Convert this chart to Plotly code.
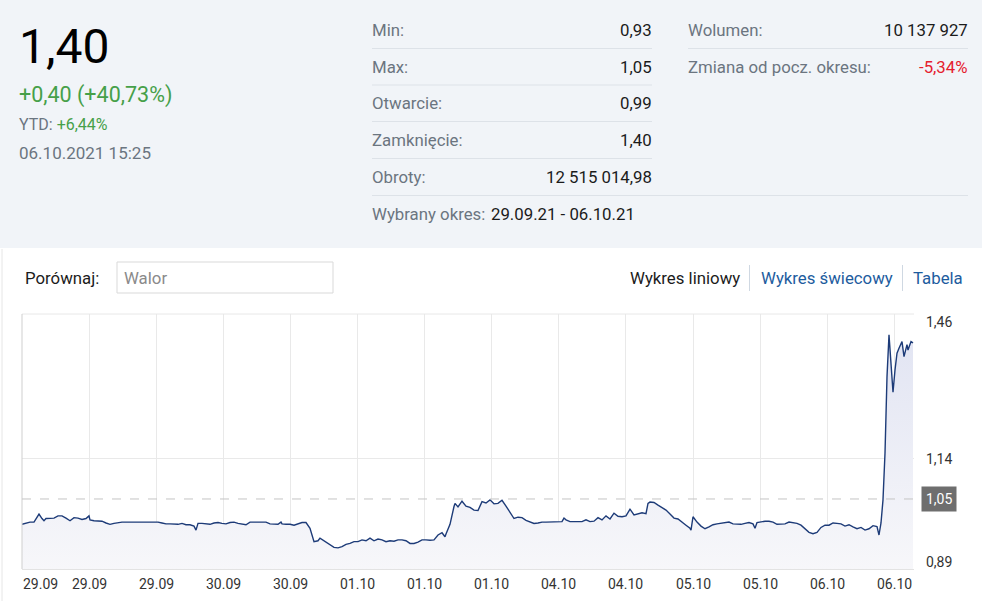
import plotly.graph_objects as go

# ---------------- data ----------------
# trading-time position (minutes from start of the selected period) and price
minutes = [
    0, 4, 8, 12, 16, 17, 20, 22, 24, 28, 32, 36, 40, 44, 48, 52, 56, 60, 64, 67,
    68, 72, 76, 80, 84, 88, 92, 96, 100, 104, 108, 112, 116, 120, 124, 128, 132, 136, 140, 144,
    148, 152, 156, 160, 164, 168, 172, 174, 176,
    180, 184, 188, 192, 196, 200, 204, 208, 212, 216, 220, 224, 228, 232, 236, 240, 244, 248, 252, 256,
    259, 260, 264, 268, 272, 276, 280, 284, 288, 292, 296, 298, 300, 304, 308, 312, 316, 320, 324, 328,
    332, 336, 340,
    344, 348, 352, 356, 360, 364, 368, 372, 376, 380, 384, 388, 392, 396, 400, 404, 408, 412, 416, 420,
    423, 424, 428, 432, 433, 436, 440, 444, 448, 452, 456, 460, 464, 468, 472, 476, 480, 484, 488, 492,
    496, 500, 504, 508, 512,
    516, 520, 524, 528, 532, 536, 540, 542, 544, 548, 552, 556, 560, 564, 568, 572, 576, 580, 584, 588,
    592, 596, 600, 604, 608, 612, 616, 620, 624, 626, 628, 632, 636, 640, 644, 648, 652, 656, 660, 664,
    668, 669, 671, 675, 679,
    683, 687, 691, 695, 699, 703, 707, 711, 715, 719, 723, 727, 731, 733, 735, 739, 743, 747, 751, 755,
    759, 763, 767, 771, 775, 779, 783, 787, 791, 795, 799, 803, 807, 811, 815, 819, 823, 827, 831, 835,
    839, 843, 847, 851,
    855, 857, 859, 861, 863, 865, 867, 869, 871, 873, 875, 877, 880, 882, 885, 886, 889, 891,
]
price = [
    0.993, 0.996, 0.998, 0.998, 1.012, 1.016, 1.006, 1.001, 1.006, 1.006, 1.007, 1.012, 1.012, 1.007, 1.001, 1.008, 1.007, 1.004, 1.006, 1.012,
    1.003, 1.001, 1.001, 1.000, 0.996, 0.993, 0.995, 0.997, 0.998, 0.998, 0.998, 0.998, 0.998, 0.999, 0.999, 0.999, 0.999, 0.998, 0.996, 0.994,
    0.994, 0.993, 0.993, 0.995, 0.992, 0.992, 0.989, 0.980, 0.995,
    0.995, 0.994, 0.993, 0.996, 0.997, 0.995, 0.994, 0.997, 0.998, 0.995, 0.993, 0.992, 0.998, 0.998, 0.998, 0.998, 0.998, 0.994, 0.993, 0.993,
    0.998, 0.994, 0.993, 0.993, 0.991, 0.994, 0.997, 0.997, 0.984, 0.954, 0.956, 0.962, 0.959, 0.952, 0.946, 0.941, 0.940, 0.943, 0.948, 0.950,
    0.954, 0.954, 0.958,
    0.956, 0.962, 0.956, 0.960, 0.958, 0.954, 0.956, 0.955, 0.958, 0.958, 0.956, 0.950, 0.950, 0.953, 0.958, 0.958, 0.957, 0.958, 0.969, 0.974,
    0.965, 0.971, 0.993, 1.033, 1.040, 1.032, 1.045, 1.034, 1.031, 1.025, 1.024, 1.044, 1.041, 1.048, 1.039, 1.040, 1.047, 1.034, 1.020, 1.006,
    1.009, 1.008, 1.002, 0.998, 0.995,
    0.996, 0.998, 0.998, 0.998, 0.998, 0.998, 0.999, 1.007, 1.003, 0.999, 0.999, 0.999, 0.999, 1.003, 0.999, 1.000, 1.008, 1.003, 1.012, 1.005,
    1.018, 1.011, 1.010, 1.012, 1.027, 1.014, 1.016, 1.019, 1.017, 1.040, 1.043, 1.042, 1.036, 1.030, 1.025, 1.016, 1.007, 1.005, 0.997, 0.991,
    0.984, 0.980, 1.010, 0.998, 0.989,
    0.983, 0.987, 0.992, 0.994, 0.995, 0.997, 0.998, 0.994, 0.994, 0.993, 0.995, 0.997, 0.994, 0.984, 0.997, 0.999, 1.000, 1.000, 0.998, 0.993,
    0.994, 0.994, 0.998, 0.997, 0.995, 0.991, 0.984, 0.975, 0.972, 0.975, 0.986, 0.991, 0.991, 0.996, 0.995, 0.994, 0.989, 0.992, 0.987, 0.983,
    0.986, 0.980, 0.983, 0.990,
    0.988, 0.969, 0.996, 1.048, 1.153, 1.325, 1.419, 1.340, 1.290, 1.340, 1.378, 1.389, 1.404, 1.370, 1.397, 1.385, 1.404, 1.401,
]
assert len(minutes) == len(price)

x_range = [0, 892]
x_tick_step = 67.1
x_tick_labels = ["29.09", "29.09", "29.09", "30.09", "30.09", "01.10", "01.10",
                 "01.10", "04.10", "04.10", "05.10", "05.10", "06.10", "06.10"]
y_range = [0.8925, 1.466]
y_grid_values = [1.14]
y_tick_values = [1.46, 1.14, 0.8925]
y_tick_labels = ["1,46", "1,14", "0,89"]
ref_price = 1.05
ref_label = "1,05"

last_price = "1,40"
change_text = "+0,40 (+40,73%)"
ytd_text = "+6,44%"
timestamp = "06.10.2021 15:25"
stats_left_labels = ["Min:", "Max:", "Otwarcie:", "Zamknięcie:", "Obroty:"]
stats_left_values = ["0,93", "1,05", "0,99", "1,40", "12 515 014,98"]
stats_right_labels = ["Wolumen:", "Zmiana od pocz. okresu:"]
stats_right_values = ["10 137 927", "-5,34%"]
period_label = "Wybrany okres:"
period_value = "29.09.21 - 06.10.21"
compare_label = "Porównaj:"
compare_placeholder = "Walor"
view_tabs = ["Wykres liniowy", "Wykres świecowy", "Tabela"]

# ---------------- layout helpers ----------------
W, H = 982, 601
L, R, T, B = 22, 914, 314, 569  # plot area in pixels


def px(x):
    return (x - L) / (R - L)


def py(y):
    return (B - y) / (B - T)


FONT = "Roboto, Arial, sans-serif"
GREY = "#6b7580"
DARK = "#1b1b1b"
GREEN = "#46a049"
RED = "#e5202e"
BLUE = "#1d5c9e"
LINE = "#1d3b78"
FS = 16.8

fig = go.Figure()
fig.add_trace(go.Scatter(
    x=minutes, y=price, mode="lines",
    line=dict(color=LINE, width=1.4),
    fill="tozeroy",
    fillgradient=dict(type="vertical", start=0.89, stop=1.46,
                      colorscale=[[0, "rgb(247,247,250)"], [1, "rgb(224,227,242)"]]),
    hoverinfo="skip", showlegend=False,
))

shapes = []
annotations = []

# header background
shapes.append(dict(type="rect", xref="paper", yref="paper", x0=px(0), x1=px(W),
                   y0=py(248), y1=py(0), fillcolor="#f1f4f8", line_width=0, layer="below"))
# card left border
shapes.append(dict(type="line", xref="paper", yref="paper", x0=px(2), x1=px(2),
                   y0=py(601), y1=py(249), line=dict(color="#e6e6e6", width=1)))

# header text
annotations.append(dict(text=last_price, x=px(17), y=py(46), xanchor="left", yanchor="middle",
                        font=dict(family=FONT, size=48, color="#000")))
annotations.append(dict(text=change_text, x=px(17), y=py(95), xanchor="left", yanchor="middle",
                        font=dict(family=FONT, size=21.5, color=GREEN)))
annotations.append(dict(text=f"YTD: <span style='color:{GREEN}'>{ytd_text}</span>", x=px(17), y=py(124),
                        xanchor="left", yanchor="middle", font=dict(family=FONT, size=16, color=GREY)))
annotations.append(dict(text=timestamp, x=px(17), y=py(153), xanchor="left", yanchor="middle",
                        font=dict(family=FONT, size=17, color=GREY)))

row_y = [30, 67, 103, 140, 177]
for i, (lab, val) in enumerate(zip(stats_left_labels, stats_left_values)):
    annotations.append(dict(text=lab, x=px(370), y=py(row_y[i]), xanchor="left", yanchor="middle",
                            font=dict(family=FONT, size=FS, color=GREY)))
    annotations.append(dict(text=val, x=px(654), y=py(row_y[i]), xanchor="right", yanchor="middle",
                            font=dict(family=FONT, size=FS, color=DARK)))
for i, (lab, val) in enumerate(zip(stats_right_labels, stats_right_values)):
    annotations.append(dict(text=lab, x=px(686), y=py(row_y[i]), xanchor="left", yanchor="middle",
                            font=dict(family=FONT, size=FS, color=GREY)))
    annotations.append(dict(text=val, x=px(970), y=py(row_y[i]), xanchor="right", yanchor="middle",
                            font=dict(family=FONT, size=FS, color=RED if val.startswith("-") else DARK)))
annotations.append(dict(text=period_label, x=px(370), y=py(214), xanchor="left", yanchor="middle",
                        font=dict(family=FONT, size=FS, color=GREY)))
annotations.append(dict(text=period_value, x=px(489), y=py(214), xanchor="left", yanchor="middle",
                        font=dict(family=FONT, size=FS, color=DARK)))

sep = "#dde2e8"
for yy in [48.5, 85, 121.5, 158.5]:
    shapes.append(dict(type="line", xref="paper", yref="paper", x0=px(372), x1=px(652),
                       y0=py(yy), y1=py(yy), line=dict(color=sep, width=1)))
shapes.append(dict(type="line", xref="paper", yref="paper", x0=px(688), x1=px(968),
                   y0=py(48.5), y1=py(48.5), line=dict(color=sep, width=1)))
shapes.append(dict(type="line", xref="paper", yref="paper", x0=px(372), x1=px(968),
                   y0=py(195.5), y1=py(195.5), line=dict(color=sep, width=1)))

# compare row
annotations.append(dict(text=compare_label, x=px(23), y=py(278), xanchor="left", yanchor="middle",
                        font=dict(family=FONT, size=FS, color=DARK)))
shapes.append(dict(type="rect", xref="paper", yref="paper", x0=px(117), x1=px(333),
                   y0=py(293), y1=py(262), line=dict(color="#d9d9d9", width=1), fillcolor="white"))
annotations.append(dict(text=compare_placeholder, x=px(122), y=py(278), xanchor="left", yanchor="middle",
                        font=dict(family=FONT, size=FS, color="#8a8a8a")))
annotations.append(dict(text=view_tabs[0], x=px(742), y=py(278), xanchor="right", yanchor="middle",
                        font=dict(family=FONT, size=FS, color=DARK)))
annotations.append(dict(text=view_tabs[1], x=px(759), y=py(278), xanchor="left", yanchor="middle",
                        font=dict(family=FONT, size=FS, color=BLUE)))
annotations.append(dict(text=view_tabs[2], x=px(911), y=py(278), xanchor="left", yanchor="middle",
                        font=dict(family=FONT, size=FS, color=BLUE)))
for xx in [749.5, 902.5]:
    shapes.append(dict(type="line", xref="paper", yref="paper", x0=px(xx), x1=px(xx),
                       y0=py(291), y1=py(265), line=dict(color="#cfd8e2", width=1)))

# chart frame lines
shapes.append(dict(type="line", xref="paper", yref="paper", x0=0, x1=1, y0=1, y1=1,
                   line=dict(color="#e8e8e8", width=1)))
shapes.append(dict(type="line", xref="paper", yref="paper", x0=0, x1=0, y0=0, y1=1,
                   line=dict(color="#cfcfcf", width=1)))
# reference (previous close) dashed line
shapes.append(dict(type="line", xref="paper", yref="y", x0=0, x1=1, y0=ref_price, y1=ref_price,
                   line=dict(color="#c4c4c4", width=1, dash="dash"), layer="above"))

# x tick labels
for i, lab in enumerate(x_tick_labels):
    annotations.append(dict(text=lab, x=i * x_tick_step, xref="x", y=py(584), yref="paper",
                            xanchor="center", yanchor="middle", xshift=18 if i == 0 else 0,
                            font=dict(family=FONT, size=14, color="#333")))
# y tick labels
y_shifts = [-5, 0, 7]
for v, lab, s in zip(y_tick_values, y_tick_labels, y_shifts):
    annotations.append(dict(text=lab, x=px(924), xref="paper", y=v, yref="y", xanchor="left",
                            yanchor="middle", yshift=s, font=dict(family=FONT, size=14, color="#333")))
annotations.append(dict(text=ref_label, x=px(921), xref="paper", y=ref_price, yref="y", xanchor="left",
                        yanchor="middle", bgcolor="#6e6e6e", borderpad=4,
                        font=dict(family=FONT, size=14, color="white")))

for a in annotations:
    a.setdefault("xref", "paper")
    a.setdefault("yref", "paper")
    a["showarrow"] = False

fig.update_layout(
    width=W, height=H,
    margin=dict(l=L, r=W - R, t=T, b=H - B),
    paper_bgcolor="white", plot_bgcolor="white",
    shapes=shapes, annotations=annotations,
    xaxis=dict(range=x_range, tickmode="linear", tick0=0, dtick=x_tick_step, showticklabels=False,
               showgrid=True, gridcolor="#e9e9e9", zeroline=False, showline=True, linecolor="#e3e3e3",
               ticks="", fixedrange=True),
    yaxis=dict(range=y_range, side="right", tickvals=y_grid_values, showticklabels=False,
               showgrid=True, gridcolor="#e9e9e9", zeroline=False, ticks="", fixedrange=True),
    hovermode=False,
    font=dict(family=FONT),
)

fig.write_html("out.html", config=dict(displayModeBar=False, staticPlot=True),
               post_script="document.body.style.margin='0';document.body.style.overflow='hidden';")
